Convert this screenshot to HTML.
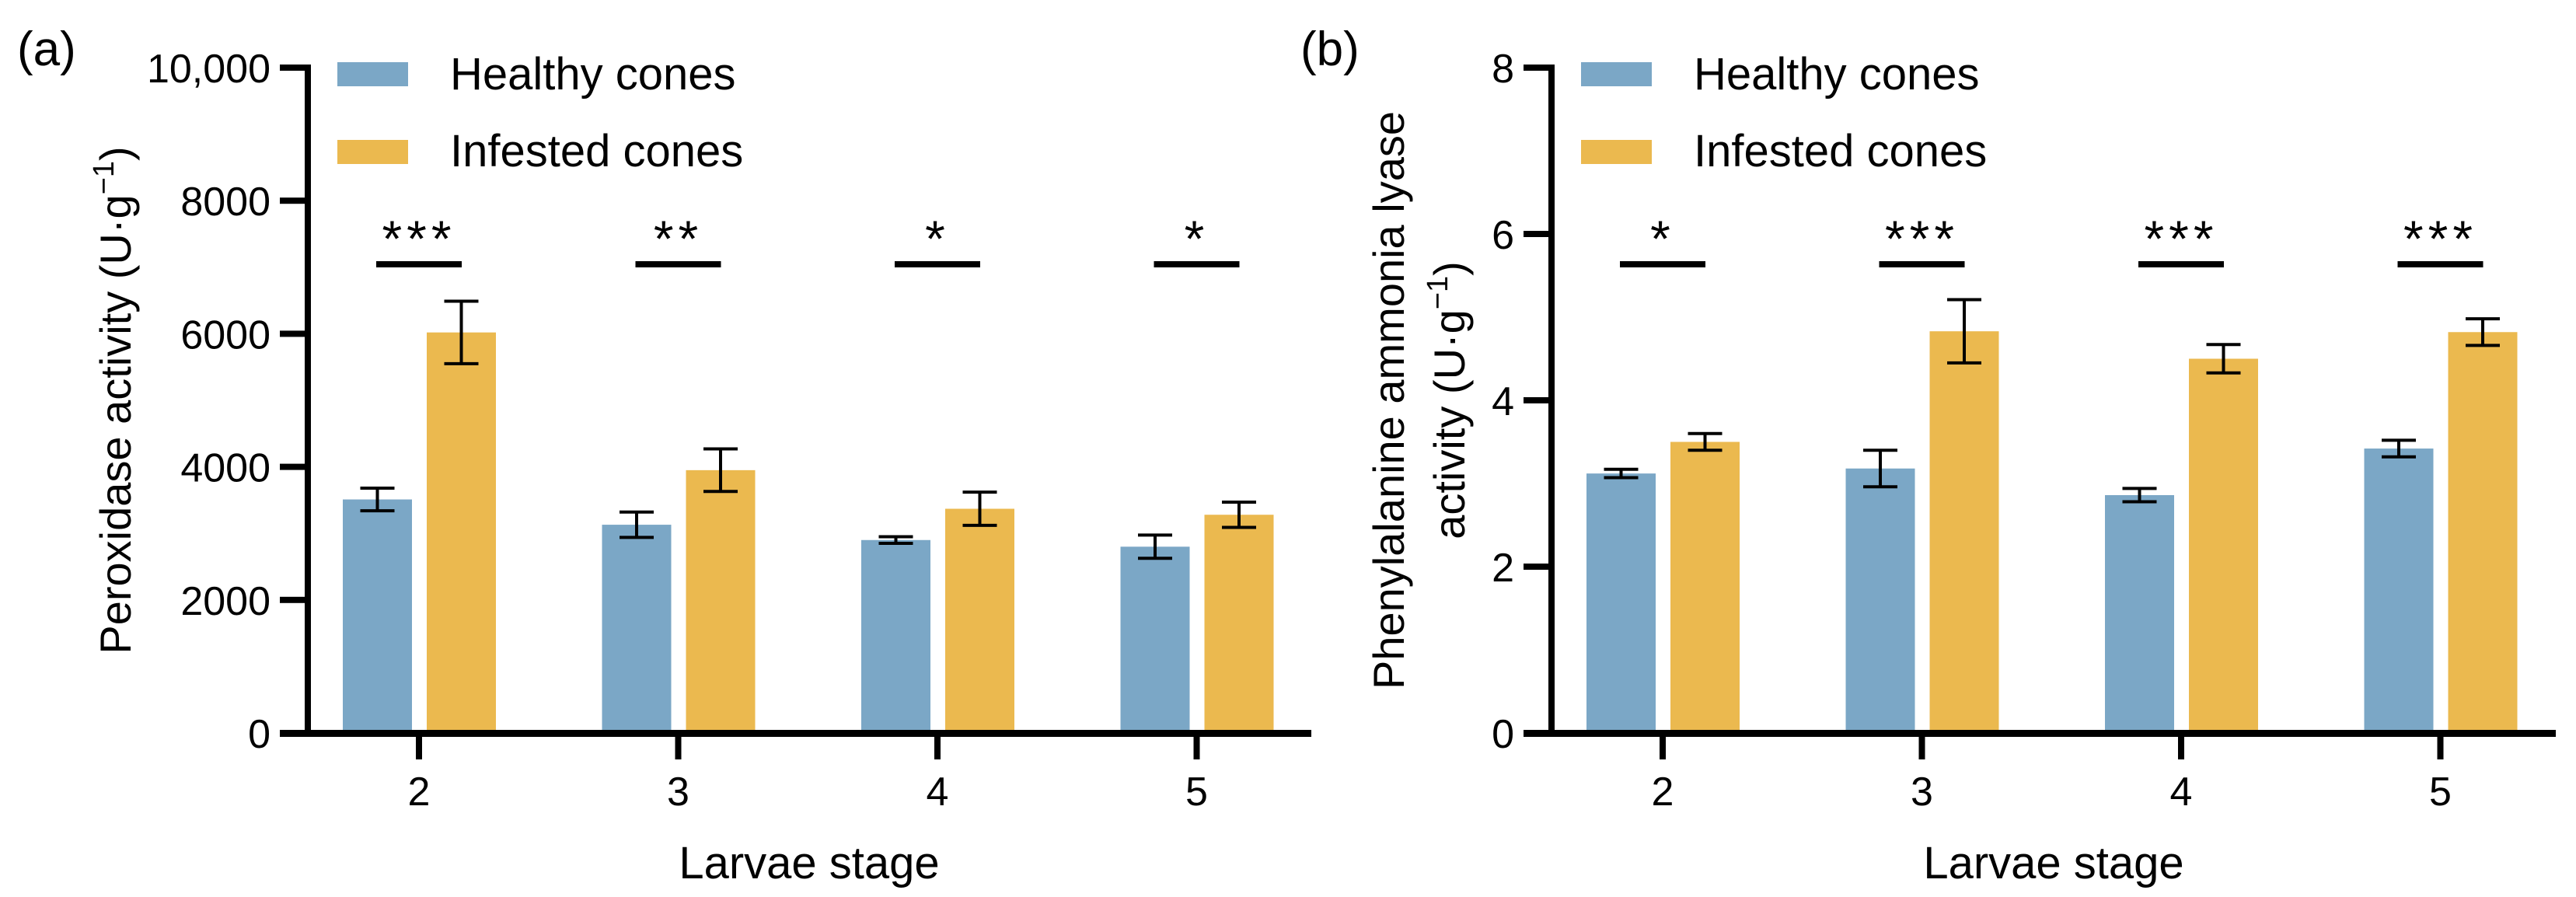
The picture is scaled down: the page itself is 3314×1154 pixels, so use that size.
<!DOCTYPE html>
<html><head><meta charset="utf-8"><style>
html,body{margin:0;padding:0;background:#fff;}
svg{display:block;font-family:"Liberation Sans",Arial,sans-serif;}
</style></head><body>
<svg id="fig" width="3314" height="1154" viewBox="0 0 3314 1154" xmlns="http://www.w3.org/2000/svg">
<text x="22" y="84" font-size="62">(a)</text>
<text x="1673" y="84" font-size="62">(b)</text>
<text transform="translate(168,515) rotate(-90)" text-anchor="middle" font-size="56">Peroxidase activity (U·g<tspan font-size="38" dy="-22">−1</tspan><tspan dy="22">)</tspan></text>
<text transform="translate(1806,515) rotate(-90)" text-anchor="middle" font-size="56">Phenylalanine ammonia lyase</text>
<text transform="translate(1884,515) rotate(-90)" text-anchor="middle" font-size="56">activity (U·g<tspan font-size="38" dy="-22">−1</tspan><tspan dy="22">)</tspan></text>
<text x="1041" y="1130" text-anchor="middle" font-size="58">Larvae stage</text>
<text x="2642" y="1130" text-anchor="middle" font-size="58">Larvae stage</text>
</svg>
<script>
const categories = ["2","3","4","5"];
const podHealthy = [3510, 3130, 2900, 2800];
const podHealthyErr = [170, 190, 50, 175];
const podInfested = [6020, 3950, 3370, 3280];
const podInfestedErr = [470, 320, 250, 190];
const podSig = ["***","**","*","*"];
const podTicks = [0, 2000, 4000, 6000, 8000, 10000];
const podTickLabels = ["0","2000","4000","6000","8000","10,000"];
const palHealthy = [3.12, 3.18, 2.86, 3.42];
const palHealthyErr = [0.05, 0.22, 0.08, 0.1];
const palInfested = [3.5, 4.83, 4.5, 4.82];
const palInfestedErr = [0.1, 0.38, 0.17, 0.16];
const palSig = ["*","***","***","***"];
const palTicks = [0, 2, 4, 6, 8];
const palTickLabels = ["0","2","4","6","8"];
const legendLabels = ["Healthy cones","Infested cones"];

const NS = "http://www.w3.org/2000/svg";
const svg = document.getElementById('fig');
function mk(tag, attrs, parent){
  const e = document.createElementNS(NS, tag);
  for (const k in attrs) e.setAttribute(k, attrs[k]);
  (parent||svg).appendChild(e);
  return e;
}
const BLUE = "#7ba7c6", ORANGE = "#ebb94f";

function panel(p){
  const g = mk('g', {});
  
  
  const y0 = 943, yTop = 87;
  const yScale = v => y0 - (v / p.max) * (y0 - yTop);
  const xScale = i => p.ax + 143 + i * 333.5;
  // bars
  for (let i = 0; i < categories.length; i++) {
    const c = xScale(i);
    const series = [[p.h, p.he, BLUE, c - 98, 'healthy'], [p.inf, p.ie, ORANGE, c + 10, 'infested']];
    for (const s of series) {
      const v = s[0][i], e = s[1][i];
      const r = mk('rect', {x: s[3], y: yScale(v), width: 89, height: y0 - yScale(v), fill: s[2]}, g);
      
      
      const cx = s[3] + 44.5;
      const eb = mk('path', {d: `M${cx},${yScale(v+e)}V${yScale(v-e)}M${cx-22},${yScale(v+e)}h44M${cx-22},${yScale(v-e)}h44`, stroke: '#000', 'stroke-width': 4, fill: 'none'}, g);
      
      
    }
    // significance
    const sl = mk('rect', {x: c - 55, y: 336, width: 110, height: 8, fill: '#000'}, g);
    
    
    const st = mk('text', {x: c, y: 330, 'text-anchor': 'middle', 'font-size': 66, 'letter-spacing': 6}, g);
    st.textContent = p.sig[i];
    
    
    // x tick
    const xt = mk('rect', {x: c - 4, y: 943, width: 8, height: 34}, g);
    
    
    const xl = mk('text', {x: c, y: 1036, 'text-anchor': 'middle', 'font-size': 52}, g);
    xl.textContent = categories[i];
    
    
  }
  // axes
  const ya = mk('rect', {x: p.ax - 4, y: yTop - 4, width: 8, height: y0 - yTop + 8}, g);
  
  
  const xa = mk('rect', {x: p.ax - 36, y: y0 - 4, width: p.xend - p.ax + 36, height: 9}, g);
  
  
  for (let j = 0; j < p.ticks.length; j++) {
    const y = yScale(p.ticks[j]);
    const t = mk('rect', {x: p.ax - 36, y: y - 4, width: 36, height: 8}, g);
    
    
    const tl = mk('text', {x: p.ax - 48, y: y + 19, 'text-anchor': 'end', 'font-size': 52}, g);
    tl.textContent = p.tickLabels[j];
    
    
  }
  // legend
  const cols = [BLUE, ORANGE];
  for (let k = 0; k < 2; k++) {
    const lr = mk('rect', {x: p.ax + 38, y: 80 + k * 100, width: 91, height: 31, fill: cols[k]}, g);
    
    
    const lt = mk('text', {x: p.ax + 183, y: 115 + k * 99, 'font-size': 58}, g);
    lt.textContent = legendLabels[k];
    
    
  }
}
panel({name: 'panel-a-peroxidase', ax: 396, xend: 1687, max: 10000, h: podHealthy, he: podHealthyErr, inf: podInfested, ie: podInfestedErr, sig: podSig, ticks: podTicks, tickLabels: podTickLabels});
panel({name: 'panel-b-pal', ax: 1996, xend: 3288, max: 8, h: palHealthy, he: palHealthyErr, inf: palInfested, ie: palInfestedErr, sig: palSig, ticks: palTicks, tickLabels: palTickLabels});
</script>
</body></html>
